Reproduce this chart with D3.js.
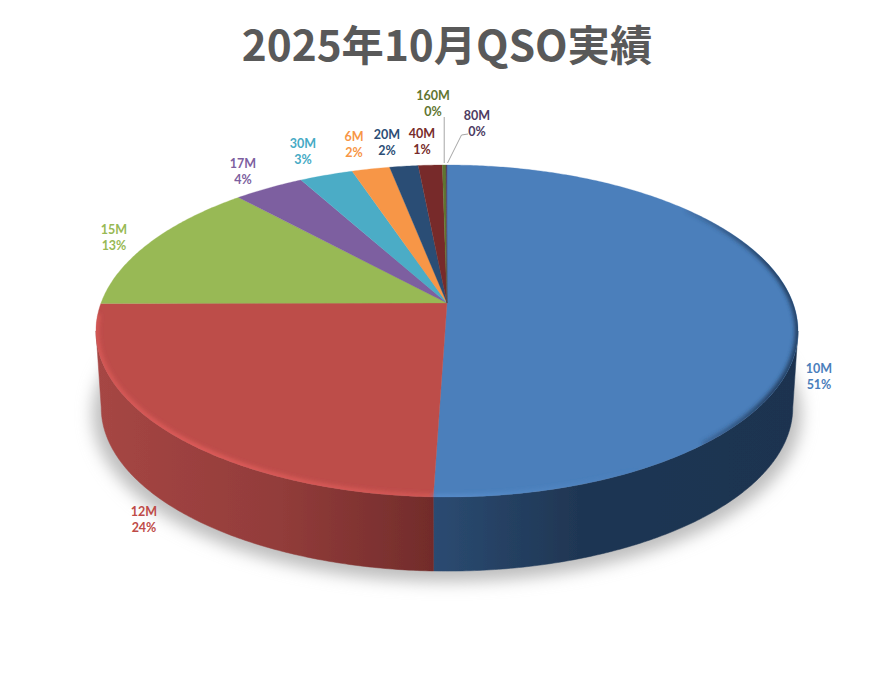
<!DOCTYPE html>
<html>
<head>
<meta charset="utf-8">
<script src="https://cdn.jsdelivr.net/npm/d3@7"></script>
<style>
  body { margin: 0; background: #fff; }
  svg { display: block; }
</style>
</head>
<body>
<svg id="canvas"></svg>
<script>
const title = "2025年10月QSO実績"
const bands = ["10M", "12M", "15M", "17M", "30M", "6M", "20M", "40M", "160M", "80M"]
const shares = [50.55, 24.45, 13.2, 3.8, 2.9, 2.05, 1.55, 1.3, 0.2, 0.05]
const percentLabels = ["51%", "24%", "13%", "4%", "3%", "2%", "2%", "1%", "0%", "0%"]

const topColors = ["#4b7fbb", "#bd4d4a", "#98b954", "#7d5fa0", "#4bacc6", "#f79646", "#2c4d75", "#772c2a", "#5f7530", "#4d3b62"]
const labelColors = ["#4a7ebb", "#be4b48", "#98b954", "#7d5fa0", "#46aac5", "#f79646", "#2c4d75", "#772c2a", "#5f7530", "#4d3b62"]

// where each label sits (centre x, first line baseline)
const labelPos = {
  "10M": [819, 373], "12M": [144, 516], "15M": [114, 234], "17M": [243, 168],
  "30M": [303, 148], "6M": [354, 141], "20M": [387, 139], "40M": [422, 138],
  "160M": [433, 100], "80M": [477, 120]
}

const width = 894
const height = 679

// perspective disc: the centre of the pie does not sit in the middle of the ellipse
const cx = 447
const topY = 303
const baseY = 380
const rx = 346
const ry = 161.3
const persp = 0.1687
const baseScale = 0.985

let project = (angle, y0, s) => {
  let X = Math.sin(angle)
  let Y = -Math.cos(angle)
  let w = 1 - persp * Y
  return [cx + s * rx * X / w, y0 + s * ry * Y / w]
}

let arcPoints = (a0, a1, y0, s) => {
  let n = Math.max(2, Math.ceil(Math.abs(a1 - a0) / 0.01))
  return d3.range(n + 1).map(i => project(a0 + (a1 - a0) * i / n, y0, s))
}

let line = d3.line()
let canvas = d3.select("#canvas").attr("width", width).attr("height", height)

let slices = d3.pie().sort(null).value(d => d)(shares)
let deg = d3.scaleLinear().domain([0, 360]).range([0, 2 * Math.PI])

// angles where the disc is widest, the wall silhouette starts there
let rightEdge = Math.acos(-persp)
let leftEdge = 2 * Math.PI - rightEdge

let defs = canvas.append("defs")
defs.append("filter").attr("id", "shadowBlur")
  .attr("x", "-10%").attr("y", "-10%").attr("width", "120%").attr("height", "120%")
  .append("feGaussianBlur").attr("stdDeviation", 8)
defs.append("filter").attr("id", "rimBlur")
  .attr("filterUnits", "userSpaceOnUse")
  .attr("x", 0).attr("y", 0).attr("width", width).attr("height", height)
  .append("feGaussianBlur").attr("stdDeviation", 2)
defs.append("filter").attr("id", "soft")
  .append("feGaussianBlur").attr("stdDeviation", 0.4)

let wallGradient = (id, x1, x2, stops) => {
  let g = defs.append("linearGradient").attr("id", id)
    .attr("gradientUnits", "userSpaceOnUse")
    .attr("x1", x1).attr("x2", x2).attr("y1", 0).attr("y2", 0)
  stops.forEach(s => {
    g.append("stop").attr("offset", s[0]).attr("stop-color", s[1])
      .attr("stop-opacity", s[2] === undefined ? 1 : s[2])
  })
}
wallGradient("wallBlue", 432, 800, [[0, "#2b4b72"], [0.4, "#1f3653"], [1, "#1c3350"]])
wallGradient("wallRed", 96, 432, [[0, "#a64644"], [0.55, "#923c3a"], [1, "#722c2b"]])
wallGradient("rimDark", 670, 770, [[0, "#213c5e", 0], [1, "#213c5e", 1]])
wallGradient("rimLight", 432, 640, [[0, "#5a90cf", 0.9], [1, "#5a90cf", 0]])
wallGradient("rimRed", 96, 432, [[0, "#e05c5a", 0.7], [0.3, "#e05c5a", 1], [1, "#e05c5a", 0.6]])

let whole = arcPoints(0, 2 * Math.PI, topY, 1)
defs.append("clipPath").attr("id", "topClip").append("path").attr("d", line(whole) + "Z")

// ground shadow
canvas.append("path")
  .attr("d", line(arcPoints(0, 2 * Math.PI, baseY + 6, baseScale * 1.025)) + "Z")
  .attr("fill", "#bebebe")
  .attr("filter", "url(#shadowBlur)")

let pie = canvas.append("g").attr("filter", "url(#soft)")

// side walls, only the two big front slices show one
let walls = pie.append("g")
let drawWall = (a0, a1, fill) => {
  let upper = arcPoints(a0, a1, topY, 1)
  let lower = arcPoints(a0, a1, baseY, baseScale).reverse()
  walls.append("path")
    .attr("d", line(upper.concat(lower)) + "Z")
    .attr("fill", fill)
    .attr("stroke", fill)
    .attr("stroke-width", 0.5)
}
drawWall(rightEdge, slices[0].endAngle, "url(#wallBlue)")
drawWall(slices[1].startAngle, leftEdge, "url(#wallRed)")

// top face
pie.append("g").selectAll("path")
  .data(slices)
  .enter()
  .append("path")
  .attr("d", d => {
    let pts = arcPoints(d.startAngle, d.endAngle, topY, 1)
    return line([[cx, topY]].concat(pts)) + "Z"
  })
  .attr("fill", (d, i) => topColors[i])
  .attr("stroke", (d, i) => topColors[i])
  .attr("stroke-width", 0.3)

// bevel along the rim of the top face
let rims = pie.append("g").attr("clip-path", "url(#topClip)")
let drawRim = (a0, a1, color, w) => {
  rims.append("path")
    .attr("d", line(arcPoints(a0, a1, topY, 1)))
    .attr("fill", "none")
    .attr("stroke", color)
    .attr("stroke-width", w)
    .attr("filter", "url(#rimBlur)")
}
drawRim(slices[1].startAngle, deg(266), "url(#rimRed)", 6)
drawRim(deg(50), deg(140), "url(#rimDark)", 6)
drawRim(deg(130), slices[0].endAngle, "url(#rimLight)", 5)

// leader lines for the two thinnest slices
let leaders = canvas.append("g").attr("fill", "none").attr("stroke", "#a6a6a6").attr("stroke-width", 1)
let mid = d => (d.startAngle + d.endAngle) / 2
let tip160 = project(mid(slices[8]), topY, 1)
let tip80 = project(mid(slices[9]), topY, 1)
leaders.append("path").attr("d", line([[tip160[0], tip160[1] - 2], [tip160[0], 117]]))
leaders.append("path").attr("d", line([[tip80[0] + 1, tip80[1] - 2], [461.5, 135], [468, 134]]))

// labels
let labels = canvas.append("g")
  .attr("font-family", "Lato, 'Open Sans', sans-serif")
  .attr("font-size", 12.5)
  .attr("font-weight", 700)
  .attr("text-anchor", "middle")
bands.forEach((band, i) => {
  let pos = labelPos[band]
  let t = labels.append("text").attr("fill", labelColors[i])
  t.append("tspan").attr("x", pos[0]).attr("y", pos[1]).text(band)
  t.append("tspan").attr("x", pos[0]).attr("y", pos[1] + 16).text(percentLabels[i])
})

canvas.append("text")
  .attr("x", 447)
  .attr("y", 61)
  .attr("text-anchor", "middle")
  .attr("font-family", "'Noto Sans CJK JP', sans-serif")
  .attr("font-size", 42.3)
  .attr("font-weight", 700)
  .attr("fill", "#595959")
  .text(title)
</script>
</body>
</html>
